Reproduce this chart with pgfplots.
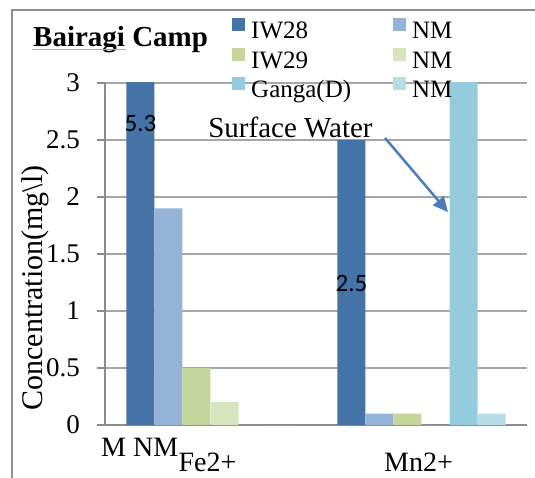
\documentclass[border=0pt]{standalone}
\usepackage{pgfplots}
\pgfplotsset{compat=1.18}
\usetikzlibrary{arrows.meta}
\usepackage{fontspec}
\setmainfont{Liberation Serif}
\newfontfamily\calibri{Carlito}

\definecolor{cIWa}{HTML}{4572A7}
\definecolor{cNMa}{HTML}{95B3D7}
\definecolor{cIWb}{HTML}{C3D69B}
\definecolor{cNMb}{HTML}{D7E4BD}
\definecolor{cGanga}{HTML}{93CDDD}
\definecolor{cNMc}{HTML}{B7DEE8}
\definecolor{gridc}{HTML}{A6A6A6}
\definecolor{axisc}{HTML}{8C8C8C}
\definecolor{framec}{HTML}{8E8E8E}
\definecolor{arrowc}{HTML}{4A7EBB}

\newcommand{\fs}[1]{\fontsize{#1}{#1}\selectfont}

\begin{document}
\begin{tikzpicture}
\path[use as bounding box] (0,0) rectangle (535pt,477pt);
\clip (0,0) rectangle (535pt,477pt);
% chart frame
\draw[framec, line width=1.6pt] (12pt,-20pt) rectangle (560pt,467pt);
% title
\node[anchor=base west, inner sep=0pt, font=\fs{29}\bfseries] at (33pt,430pt) {Bairagi Camp};
\draw[red!45, line width=0.7pt] (32pt,428pt) -- (126pt,428pt);

\begin{axis}[
  at={(105pt,52pt)}, anchor=south west,
  scale only axis, width=422pt, height=342pt,
  xmin=0.5, xmax=2.5, ymin=0, ymax=3,
  axis x line*=bottom, axis y line*=left,
  axis line style={axisc, line width=1.3pt},
  ymajorgrids, grid style={gridc, line width=1.3pt},
  ytick={0,0.5,1,1.5,2,2.5,3},
  major tick length=8pt, minor tick length=9pt,
  tick align=outside,
  ytick style={axisc, line width=1.3pt},
  yticklabel style={font=\fs{27}, inner sep=0pt, xshift=-17pt},
  /pgf/number format/assume math mode=true,
  xtick={1,2}, xticklabels={Fe2+, Mn2+},
  xtick style={draw=none},
  minor xtick={0.5,1.5,2.5},
  minor x tick style={axisc, line width=1.3pt},
  xticklabel style={font=\fs{28}, anchor=base, inner sep=0pt, yshift=-38pt, xshift=-3pt},
  ylabel={Concentration(mg\textbackslash l)},
  every axis y label/.style={at={(axis description cs:-0.147,0.4006)}, rotate=90, anchor=base, font=\fs{30}, inner sep=0pt},
  ybar, bar width=0.1327,
  legend columns=2, legend cell align=left,
  legend image code/.code={\draw[#1,draw=none] (0pt,2pt) rectangle (13pt,15pt);},
  legend style={at={(axis description cs:0.301,1.19)}, anchor=north west,
    draw=none, fill=none, inner sep=0pt, font=\fs{25},
    nodes={inner sep=0pt, text height=17pt, text depth=6pt},
    row sep=3pt,
    /tikz/every odd column/.style={column sep=6pt},
    /tikz/every even column/.style={column sep=42pt}},
]
% well IW28 (Fe2+ = 5.3 runs past the axis top)
\addplot[fill=cIWa, draw=none, bar shift=-0.3318] coordinates {(1,5.3) (2,2.5)};
\addplot[fill=cNMa, draw=none, bar shift=-0.1991] coordinates {(1,1.9) (2,0.1)};
\addplot[fill=cIWb, draw=none, bar shift=-0.0664] coordinates {(1,0.5) (2,0.1)};
\addplot[fill=cNMb, draw=none, bar shift=0.0664] coordinates {(1,0.2) (2,0)};
% Ganga Mn2+ exceeds the axis range
\addplot[fill=cGanga, draw=none, bar shift=0.1991] coordinates {(1,0) (2,3.4)};
\addplot[fill=cNMc, draw=none, bar shift=0.3318] coordinates {(1,0) (2,0.1)};
\legend{IW28, NM, IW29, NM, Ganga(D), NM}

\node[font=\calibri\fs{25}] at (axis cs:0.668,2.645) {5.3};
\node[font=\calibri\fs{25}] at (axis cs:1.668,1.24) {2.5};
\node[font=\fs{29}, anchor=base, inner sep=0pt] at (axis cs:1.379,2.526) {Surface Water};
\draw[arrowc, line width=2.5pt, -{Triangle[length=15pt,width=14pt]}]
  (axis cs:1.827,2.518) -- (axis cs:2.1256,1.868);
\end{axis}
\node[anchor=base west, inner sep=0pt, font=\fs{28}] at (101pt,21pt) {M NM};
\end{tikzpicture}
\end{document}
